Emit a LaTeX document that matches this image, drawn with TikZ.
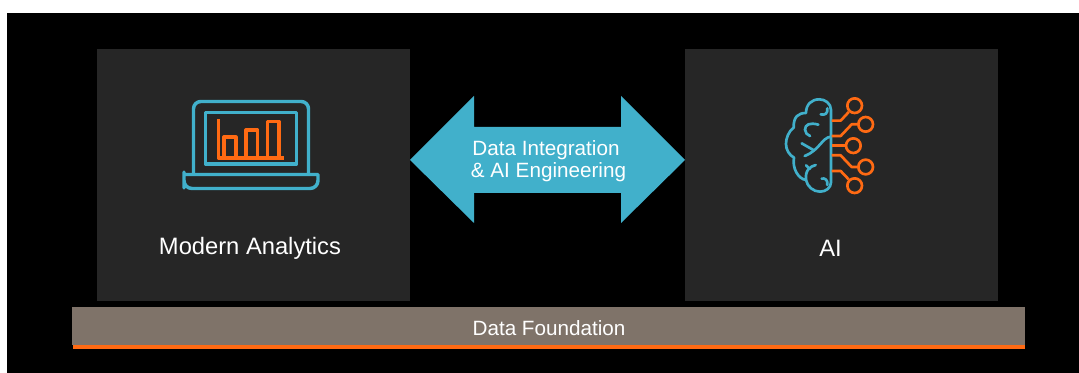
\documentclass[tikz,border=0pt]{standalone}
\usepackage{fontspec}
\setmainfont{Liberation Sans}
\definecolor{teal}{HTML}{41B0CB}
\definecolor{orange}{HTML}{FF6A13}
\definecolor{panel}{HTML}{262626}
\definecolor{taupe}{HTML}{7F7369}
\begin{document}
\begin{tikzpicture}[x=0.75pt,y=-0.75pt,line join=round,
  panel node/.style={fill=panel,minimum width=234.75pt,minimum height=189pt,inner sep=0pt,outer sep=0pt},
  big label/.style={text=white,font=\fontsize{17.8}{20}\selectfont},
  small label/.style={text=white,font=\fontsize{15.5}{20}\selectfont,inner sep=0pt},
  icon teal/.style={draw=teal,line width=2.6pt},
  icon orange/.style={draw=orange,line width=2.4pt},
  brain teal/.style={draw=teal,line width=2pt,line cap=round},
  brain orange/.style={draw=orange,line width=2pt},
  tip node/.style={circle,draw=orange,line width=2pt,minimum size=11pt,inner sep=0pt}]
\useasboundingbox (0,0) rectangle (1079,373);
\fill [black] (7,13) rectangle (1079,373);
% panels
\node [panel node](analytics) at (253.5,175) {};
\node [panel node](ai) at (841.5,175) {};
\node [big label](analyticslabel) at (250,248.5) {Modern Analytics};
\node [big label](ailabel) at (830.5,248.5) {AI};
% foundation
\fill [orange] (73,344) rectangle (1025,348.6);
\node [fill=taupe,minimum width=714.75pt,minimum height=28.5pt,inner sep=0pt,outer sep=0pt](foundation) at (548.5,326) {};
\node [small label](foundationlabel) at (549,328) {Data Foundation};
% double arrow
\fill [teal] (410,160) -- (474,96) -- (474,127) -- (621,127) -- (621,96) -- (685,160) -- (621,223) -- (621,193) -- (474,193) -- (474,223) -- cycle;
\node [small label](integrationlabel) at (546,150) {Data Integration};
\node [small label](engineeringlabel) at (548.5,172) {\& AI Engineering};
% laptop
\draw [icon teal,rounded corners=5.5pt] (193.5,175) -- (193.5,101.5) -- (308.5,101.5) -- (308.5,175);
\draw [icon teal] (205.5,112.5) rectangle (296.5,164);
\draw [icon teal] (184,174.5) -- (318,174.5) -- (318,180) [rounded corners=6pt] -- (318,188.5) -- (184,188.5) -- (184,180) [sharp corners] -- cycle;
\draw [icon orange] (218.5,119) -- (218.5,158) -- (284,158);
\draw [icon orange] (224,158) -- (224,137) -- (236,137) -- (236,158);
\draw [icon orange] (246,158) -- (246,130) -- (257.5,130) -- (257.5,158);
\draw [icon orange] (267.5,158) -- (267.5,121.5) -- (279,121.5) -- (279,158);
% brain
\begin{scope}[shift={(770,85)},x=0.25pt,y=-0.25pt]
\draw [brain teal] (183,292) -- (183,75) .. controls (183,55) and (165,43) .. (148,43) .. controls (125,43) and (108,58) .. (108,84) .. controls (85,84) and (70,95) .. (71,128) .. controls (55,140) and (48,160) .. (48,177) .. controls (48,195) and (58,210) .. (72,218) .. controls (66,250) and (85,282) .. (108,285) .. controls (112,305) and (130,320) .. (150,320) .. controls (168,320) and (183,308) .. (183,292);
\draw [brain teal] (152,88) .. controls (165,92) and (174,85) .. (172,70);
\draw [brain teal] (145,119) .. controls (120,112) and (105,118) .. (105,134) .. controls (105,143) and (112,150) .. (120,153);
\draw [brain teal] (183,155) .. controls (155,158) and (150,195) .. (104,213);
\draw [brain teal] (95,175) -- (130,195);
\draw [brain teal] (137,240) .. controls (120,245) and (105,255) .. (108,285);
\draw [brain teal] (108,241) -- (119,252);
\draw [brain teal] (155,281) .. controls (165,278) and (174,285) .. (172,300);
\node [tip node](c0) at (254,62) {};
\node [tip node](c1) at (287,118) {};
\node [tip node](c2) at (250,182) {};
\node [tip node](c3) at (287,246) {};
\node [tip node](c4) at (254,302) {};
\draw [brain orange] (185,107) -- (212,107) -- (c0);
\draw [brain orange] (185,153) -- (212,153) -- (245,118) -- (c1);
\draw [brain orange] (185,182) -- (c2);
\draw [brain orange] (185,211) -- (212,211) -- (245,246) -- (c3);
\draw [brain orange] (185,258) -- (212,258) -- (c4);
\end{scope}
\end{tikzpicture}
\end{document}
